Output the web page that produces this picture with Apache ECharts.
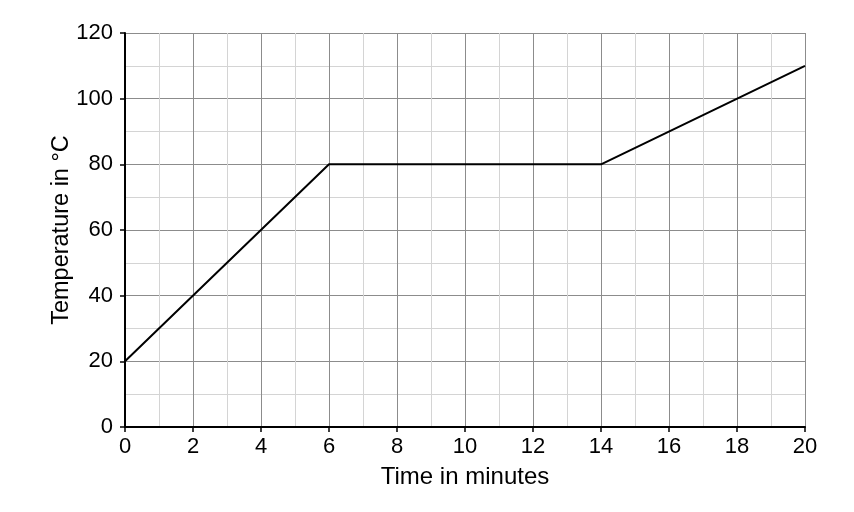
<!DOCTYPE html>
<html>
<head>
<meta charset="utf-8">
<script src="https://cdn.jsdelivr.net/npm/echarts@6/dist/echarts.min.js"></script>
<style>html,body{margin:0;padding:0;background:#fff}#c{width:854px;height:512px}</style>
</head>
<body>
<div id="c"></div>
<script>
const timeMinutes = [0, 6, 14, 20];
const temperature = [20, 80, 80, 110];
const xLabel = 'Time in minutes';
const yLabel = 'Temperature in °C';

const chart = echarts.init(document.getElementById('c'), null, {renderer: 'canvas'});
const font = 'Liberation Sans, Arial, sans-serif';
chart.setOption({
  animation: false,
  backgroundColor: '#ffffff',
  grid: {left: 125, right: 49, top: 33, bottom: 85, containLabel: false},
  xAxis: {
    type: 'value', min: 0, max: 20, interval: 2,
    name: xLabel, nameLocation: 'middle', nameGap: 38, nameMoveOverlap: false,
    nameTextStyle: {color: '#000', fontSize: 24, fontFamily: font},
    axisLine: {show: true, onZero: false, lineStyle: {color: '#000', width: 2}},
    axisTick: {show: true, length: 5, lineStyle: {color: '#000', width: 1.5}},
    axisLabel: {color: '#000', fontSize: 22, fontFamily: font, margin: 9},
    splitLine: {show: true, lineStyle: {color: '#8c8c8c', width: 1}},
    minorTick: {show: false, splitNumber: 2},
    minorSplitLine: {show: true, lineStyle: {color: '#d4d4d4', width: 1}}
  },
  yAxis: {
    type: 'value', min: 0, max: 120, interval: 20,
    name: yLabel, nameLocation: 'middle', nameGap: 51, nameMoveOverlap: false,
    nameTextStyle: {color: '#000', fontSize: 23.5, fontFamily: font},
    axisLine: {show: true, onZero: false, lineStyle: {color: '#000', width: 2}},
    axisTick: {show: true, length: 5, lineStyle: {color: '#000', width: 1.5}},
    axisLabel: {color: '#000', fontSize: 22, fontFamily: font, margin: 12},
    splitLine: {show: true, lineStyle: {color: '#8c8c8c', width: 1}},
    minorTick: {show: false, splitNumber: 2},
    minorSplitLine: {show: true, lineStyle: {color: '#d4d4d4', width: 1}}
  },
  series: [{
    type: 'line',
    data: timeMinutes.map((t, i) => [t, temperature[i]]),
    showSymbol: false,
    symbol: 'none',
    lineStyle: {color: '#000', width: 2},
    z: 5
  }]
});
</script>
</body>
</html>
